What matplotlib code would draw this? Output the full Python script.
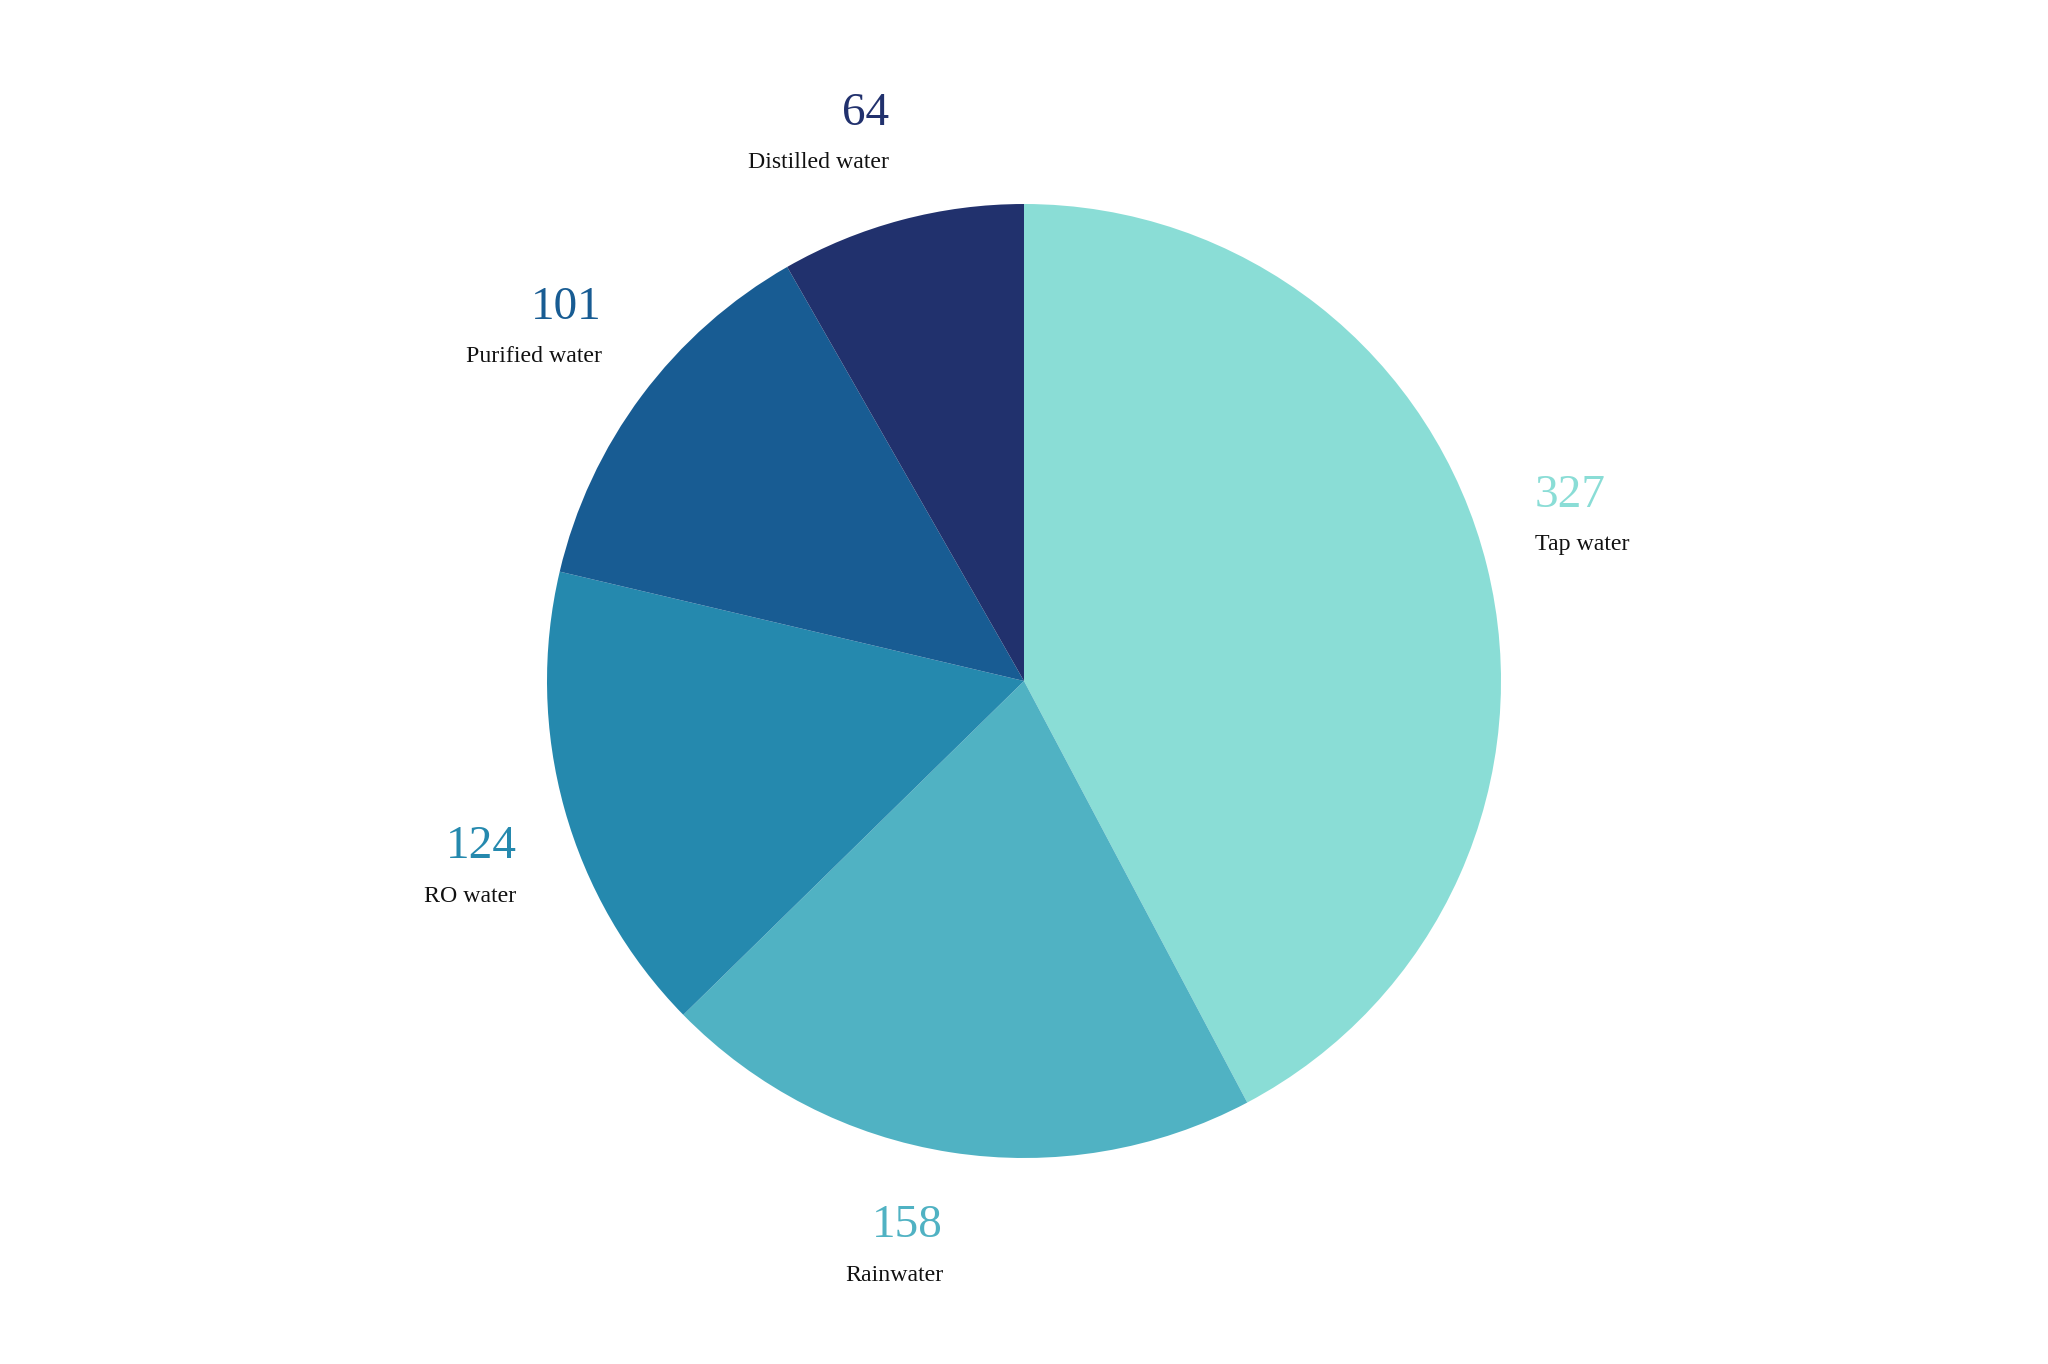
import numpy as np
import matplotlib
matplotlib.use("Agg")
import matplotlib.pyplot as plt

categories = ["Tap water", "Rainwater", "RO water", "Purified water", "Distilled water"]
values = [327, 158, 124, 101, 64]
colors = ["#8ADDD6", "#50B2C3", "#2589AE", "#185C93", "#21316D"]

W, H = 2048, 1364
R = 477.0
cx, cy = 1024.0, 681.0

fig = plt.figure(figsize=(W / 100, H / 100), dpi=100)
ax = fig.add_axes([0, 0, 1, 1])

wedges, _ = ax.pie(values, colors=colors, startangle=90, counterclock=False,
                   radius=1.0, wedgeprops=dict(linewidth=0))

ax.set_xlim(-cx / R, (W - cx) / R)
ax.set_ylim(-(H - cy) / R, cy / R)
ax.set_aspect("equal")
ax.axis("off")

serif = "Liberation Serif"
total = sum(values)
cum = 0
for cat, v, col in zip(categories, values, colors):
    mid = (cum + v / 2) / total * 360
    cum += v
    ang = np.deg2rad(90 - mid)
    ax_, ay_ = 1.104 * np.cos(ang), 1.104 * np.sin(ang)
    ha = "left" if np.cos(ang) > 0 else "right"
    if np.sin(ang) > 0:
        name_off = 4
        num_off = name_off + 43
    else:
        num_off = -36
        name_off = num_off - 44
    ax.annotate(str(v), (ax_, ay_), xytext=(0, num_off), textcoords="offset pixels",
                ha=ha, va="baseline", fontsize=34, color=col, family=serif)
    ax.annotate(cat, (ax_, ay_), xytext=(0, name_off), textcoords="offset pixels",
                ha=ha, va="baseline", fontsize=17.2, color="#111111", family=serif)

fig.savefig("out.png", dpi=100, facecolor="white")
